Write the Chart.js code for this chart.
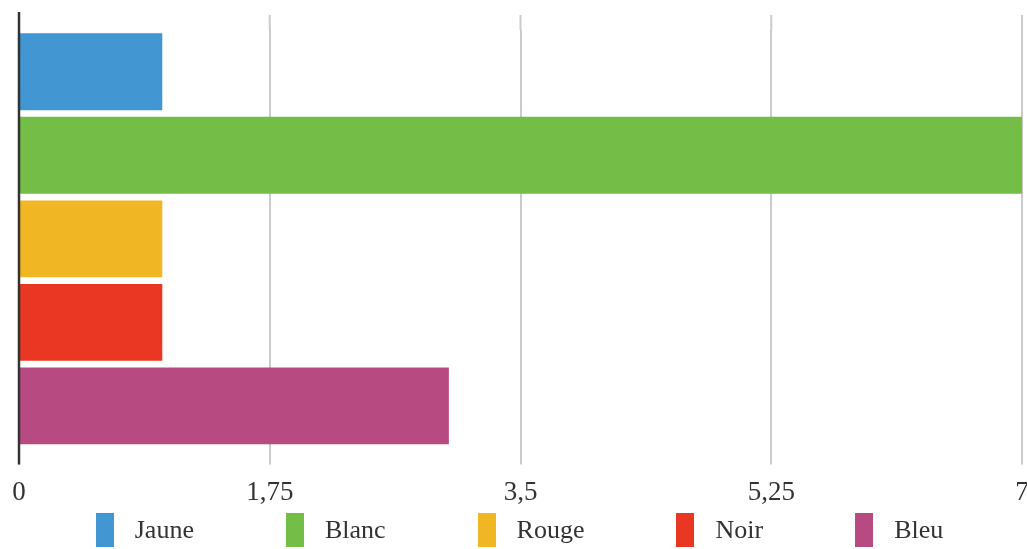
<!DOCTYPE html>
<html>
<head>
<meta charset="utf-8">
<script src="https://cdn.jsdelivr.net/npm/chart.js@4.4.0/dist/chart.umd.min.js"></script>
<style>
  body { margin: 0; background: #fff; }
  #wrap { position: relative; width: 1027px; height: 549px; }
  #legend {
    position: absolute; left: 6px; top: 513px; width: 1027px;
    display: flex; justify-content: center; gap: 92px;
    font-family: "Liberation Serif", serif; font-size: 26px; color: #333;
  }
  .item { display: flex; align-items: center; }
  .box { width: 18px; height: 34px; margin-right: 21px; }
</style>
</head>
<body>
<div id="wrap">
  <canvas id="myChart" width="1027" height="549"></canvas>
  <div id="legend"></div>
</div>
<script>
const categories = ["Jaune", "Blanc", "Rouge", "Noir", "Bleu"];
const values = [1, 7, 1, 1, 3];
const colors = ["#4296d2", "#74be48", "#f0b623", "#ea3724", "#b74a80"];
const tickValues = [0, 1.75, 3.5, 5.25, 7];
const tickLabels = ["0", "1,75", "3,5", "5,25", "7"];

// legend as html, one entry per category
const legend = document.getElementById("legend");
categories.forEach((name, i) => {
  const item = document.createElement("div");
  item.className = "item";
  item.innerHTML = '<span class="box" style="background:' + colors[i] + '"></span><span>' + name + "</span>";
  legend.appendChild(item);
});

// grid lines run a bit past the bars, and the zero line sits on top
const axisLines = {
  id: "axisLines",
  beforeDatasetsDraw(chart) {
    const { ctx, chartArea, scales } = chart;
    ctx.save();
    ctx.strokeStyle = "#cccaca";
    ctx.lineWidth = 2;
    scales.x.ticks.forEach((t) => {
      if (t.value === 0) return;
      const x = scales.x.getPixelForValue(t.value);
      ctx.beginPath();
      ctx.moveTo(x, chartArea.top - 15);
      ctx.lineTo(x, chartArea.top);
      ctx.stroke();
    });
    ctx.restore();
  },
  afterDatasetsDraw(chart) {
    const { ctx, chartArea, scales } = chart;
    const x = scales.x.getPixelForValue(0);
    ctx.save();
    ctx.strokeStyle = "#333";
    ctx.lineWidth = 2.5;
    ctx.beginPath();
    ctx.moveTo(x, chartArea.top - 18);
    ctx.lineTo(x, chartArea.bottom + 17);
    ctx.stroke();
    ctx.restore();
  },
};

const ctx = document.getElementById("myChart").getContext("2d");
const myChart = new Chart(ctx, {
  type: "bar",
  data: {
    labels: categories,
    datasets: [
      {
        data: values,
        backgroundColor: colors,
        borderWidth: 0,
        categoryPercentage: 1,
        barPercentage: 0.92,
      },
    ],
  },
  options: {
    indexAxis: "y",
    responsive: false,
    animation: false,
    layout: { padding: { top: 30, left: 19, right: 5, bottom: 28 } },
    plugins: { legend: { display: false }, tooltip: { enabled: false } },
    scales: {
      x: {
        min: 0,
        max: 7,
        afterBuildTicks: (scale) => {
          scale.ticks = tickValues.map((v) => ({ value: v }));
        },
        afterFit: (scale) => {
          scale.paddingLeft = 0;
          scale.paddingRight = 0;
        },
        grid: { color: "#cccaca", lineWidth: 2, tickLength: 17 },
        border: { display: false },
        ticks: {
          padding: 12,
          color: "#333",
          font: { family: "Liberation Serif", size: 27 },
          callback: (v, i) => tickLabels[i],
        },
      },
      y: { display: false },
    },
  },
  plugins: [axisLines],
});
</script>
</body>
</html>
